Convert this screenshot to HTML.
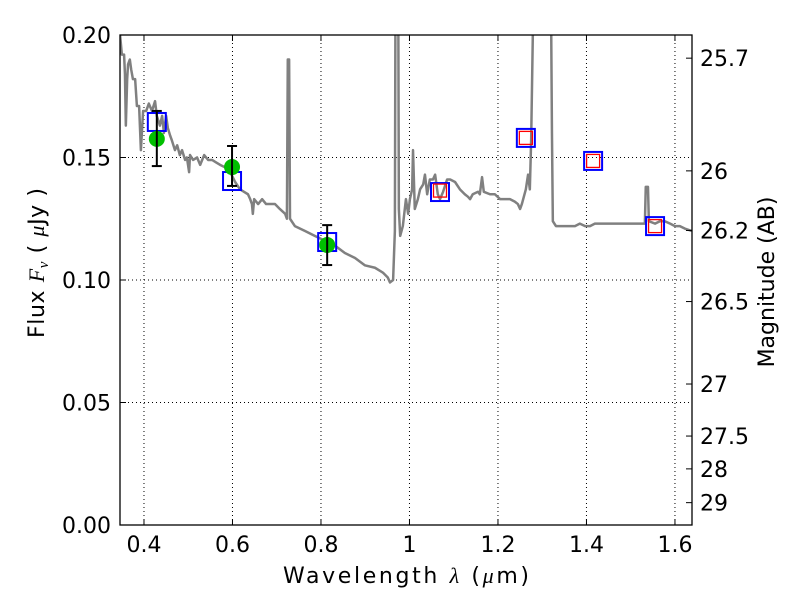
<!DOCTYPE html>
<html><head><meta charset="utf-8"><style>
html,body{margin:0;padding:0;background:#fff}
svg{display:block;font-family:"DejaVu Sans","Liberation Sans",sans-serif}
</style></head><body>
<svg id="chart" width="800" height="600" viewBox="0 0 800 600"></svg>
<script>
const specLam=[0.346,0.350,0.355,0.357,0.359,0.362,0.364,0.368,0.371,0.375,0.380,0.384,0.389,0.393,0.398,0.405,0.411,0.418,0.425,0.429,0.436,0.441,0.445,0.450,0.454,0.459,0.463,0.470,0.475,0.481,0.486,0.493,0.497,0.502,0.504,0.511,0.520,0.527,0.536,0.545,0.554,0.563,0.572,0.583,0.595,0.606,0.617,0.626,0.635,0.640,0.644,0.646,0.649,0.658,0.667,0.676,0.685,0.696,0.707,0.719,0.723,0.725,0.728,0.730,0.741,0.764,0.786,0.809,0.832,0.854,0.877,0.899,0.922,0.940,0.951,0.956,0.963,0.967,0.969,0.974,0.976,0.979,0.985,0.992,0.997,1.001,1.006,1.008,1.012,1.019,1.024,1.031,1.035,1.040,1.046,1.053,1.058,1.064,1.069,1.076,1.085,1.092,1.103,1.114,1.125,1.132,1.137,1.143,1.155,1.159,1.164,1.168,1.182,1.193,1.205,1.216,1.227,1.238,1.245,1.250,1.254,1.263,1.268,1.272,1.275,1.284,1.318,1.322,1.324,1.331,1.340,1.351,1.363,1.374,1.385,1.397,1.408,1.419,1.431,1.442,1.453,1.464,1.476,1.487,1.498,1.510,1.521,1.532,1.534,1.539,1.541,1.555,1.566,1.577,1.589,1.600,1.611,1.622,1.638];
const specFlux=[0.200,0.192,0.192,0.184,0.163,0.182,0.188,0.190,0.186,0.182,0.182,0.171,0.171,0.153,0.169,0.169,0.172,0.169,0.173,0.167,0.163,0.167,0.160,0.167,0.162,0.159,0.157,0.153,0.155,0.151,0.153,0.149,0.150,0.144,0.151,0.149,0.150,0.147,0.151,0.149,0.149,0.148,0.147,0.146,0.144,0.140,0.137,0.136,0.135,0.133,0.131,0.127,0.133,0.131,0.133,0.131,0.131,0.131,0.129,0.127,0.125,0.190,0.190,0.125,0.122,0.120,0.118,0.116,0.114,0.111,0.109,0.106,0.105,0.103,0.101,0.099,0.100,0.120,0.260,0.260,0.129,0.118,0.122,0.133,0.127,0.133,0.137,0.153,0.129,0.133,0.137,0.139,0.143,0.135,0.141,0.141,0.143,0.135,0.133,0.136,0.141,0.141,0.140,0.137,0.135,0.134,0.133,0.135,0.136,0.135,0.142,0.136,0.135,0.135,0.133,0.133,0.133,0.132,0.131,0.129,0.131,0.137,0.143,0.137,0.157,0.260,0.260,0.160,0.124,0.122,0.122,0.122,0.122,0.122,0.123,0.122,0.122,0.123,0.123,0.123,0.123,0.123,0.123,0.123,0.123,0.123,0.123,0.123,0.138,0.138,0.124,0.123,0.124,0.124,0.123,0.122,0.122,0.121,0.120];
const photLam=[0.429,0.599,0.814];
const photFlux=[0.1576,0.1461,0.1143];
const photLo=[0.1465,0.1384,0.1061];
const photHi=[0.1690,0.1547,0.1224];
const modelLam=[0.429,0.599,0.814,1.069,1.263,1.415,1.555];
const modelFlux=[0.1645,0.1404,0.1155,0.1359,0.1580,0.1486,0.1220];
const predLam=[1.069,1.263,1.415,1.555];
const predFlux=[0.1365,0.1580,0.1486,0.1220];
const xTicks=[0.4,0.6,0.8,1.0,1.2,1.4,1.6];
const xTickLabels=["0.4","0.6","0.8","1","1.2","1.4","1.6"];
const yTicks=[0,0.05,0.10,0.15,0.20];
const yTickLabels=["0.00","0.05","0.10","0.15","0.20"];
const magTicks=[25.7,26,26.2,26.5,27,27.5,28,29];
const magLabels=["25.7","26","26.2","26.5","27","27.5","28","29"];

const L=120,R=692,T=35,B=525,X0=0.3458,X1=1.6385,Y0=0,Y1=0.2;
const sx=v=>L+(v-X0)/(X1-X0)*(R-L);
const sy=v=>B-(v-Y0)/(Y1-Y0)*(B-T);
const NS="http://www.w3.org/2000/svg";
const svg=document.getElementById('chart');
function mk(tag,attrs,parent){const e=document.createElementNS(NS,tag);for(const k in attrs)e.setAttribute(k,attrs[k]);(parent||svg).appendChild(e);return e;}
const defs=mk('defs',{});
const cp=mk('clipPath',{id:'clip'},defs);mk('rect',{x:L,y:T,width:R-L,height:B-T},cp);

const grid=mk('g',{});


xTicks.forEach(t=>mk('line',{x1:sx(t),x2:sx(t),y1:T,y2:B,stroke:'#000','stroke-width':1,'stroke-dasharray':'1,3'},grid));
yTicks.forEach(t=>mk('line',{x1:L,x2:R,y1:sy(t),y2:sy(t),stroke:'#000','stroke-width':1,'stroke-dasharray':'1,3'},grid));

const plot=mk('g',{'clip-path':'url(#clip)'});
const spec=mk('polyline',{points:specLam.map((l,i)=>sx(l)+','+sy(specFlux[i])).join(' '),fill:'none',stroke:'#808080','stroke-width':2.5,'stroke-linejoin':'round'},plot);



modelLam.forEach((l,i)=>{
  const r=mk('rect',{x:sx(l)-9,y:sy(modelFlux[i])-9,width:18,height:18,fill:'none',stroke:'#0000ff','stroke-width':2},plot);
  
  
});
predLam.forEach((l,i)=>{
  const r=mk('rect',{x:sx(l)-6.5,y:sy(predFlux[i])-6.5,width:13,height:13,fill:'none',stroke:'#ff0000','stroke-width':1.3},plot);
  
  
});
photLam.forEach((l,i)=>{
  const c=mk('circle',{cx:sx(l),cy:sy(photFlux[i]),r:8,fill:'#00bf00'},plot);
  
  
  const g=mk('g',{stroke:'#000','stroke-width':2},plot);
  
  
  const x=sx(l);
  mk('line',{x1:x,x2:x,y1:sy(photLo[i]),y2:sy(photHi[i])},g);
  mk('line',{x1:x-5,x2:x+5,y1:sy(photLo[i]),y2:sy(photLo[i])},g);
  mk('line',{x1:x-5,x2:x+5,y1:sy(photHi[i]),y2:sy(photHi[i])},g);
});

const fr=mk('rect',{x:L,y:T,width:R-L,height:B-T,fill:'none',stroke:'#000','stroke-width':1.3});



xTicks.forEach((t,i)=>{
  mk('line',{x1:sx(t),x2:sx(t),y1:B,y2:B-6,stroke:'#000'});
  mk('line',{x1:sx(t),x2:sx(t),y1:T,y2:T+6,stroke:'#000'});
  const tx=mk('text',{x:sx(t),y:B+27,'text-anchor':'middle','font-size':22});
  tx.textContent=xTickLabels[i];
  
  
});
yTicks.forEach((t,i)=>{
  mk('line',{x1:L,x2:L+6,y1:sy(t),y2:sy(t),stroke:'#000'});
  const tx=mk('text',{x:L-9,y:sy(t)+8,'text-anchor':'end','font-size':22});
  tx.textContent=yTickLabels[i];
  
  
});
magTicks.forEach((m,i)=>{
  const y=sy(Math.pow(10,(23.9-m)/2.5));
  mk('line',{x1:R,x2:R-6,y1:y,y2:y,stroke:'#000'});
  const tx=mk('text',{x:R+8,y:y+8,'text-anchor':'start','font-size':22});
  tx.textContent=magLabels[i];
  
  
});

const xl=mk('text',{x:406,y:583,'text-anchor':'middle','font-size':22,textLength:246,lengthAdjust:'spacing'});
xl.innerHTML='Wavelength  <tspan font-family="Liberation Serif,serif" font-style="italic">λ</tspan> (<tspan font-family="Liberation Serif,serif" font-style="italic">μ</tspan>m)';


const yl=mk('text',{x:0,y:0,'text-anchor':'middle','font-size':22,textLength:150,lengthAdjust:'spacing',transform:'translate(44,263) rotate(-90)'});
yl.innerHTML='Flux  <tspan font-family="Liberation Serif,serif" font-style="italic">F</tspan><tspan font-family="Liberation Serif,serif" font-style="italic" font-size="15" dy="4">ν</tspan><tspan dy="-4">  (  </tspan><tspan font-family="Liberation Serif,serif" font-style="italic">μ</tspan>Jy )';


const yr=mk('text',{x:0,y:0,'text-anchor':'middle','font-size':22,transform:'translate(774,282) rotate(-90)'});
yr.textContent='Magnitude (AB)';


</script>
</body></html>
